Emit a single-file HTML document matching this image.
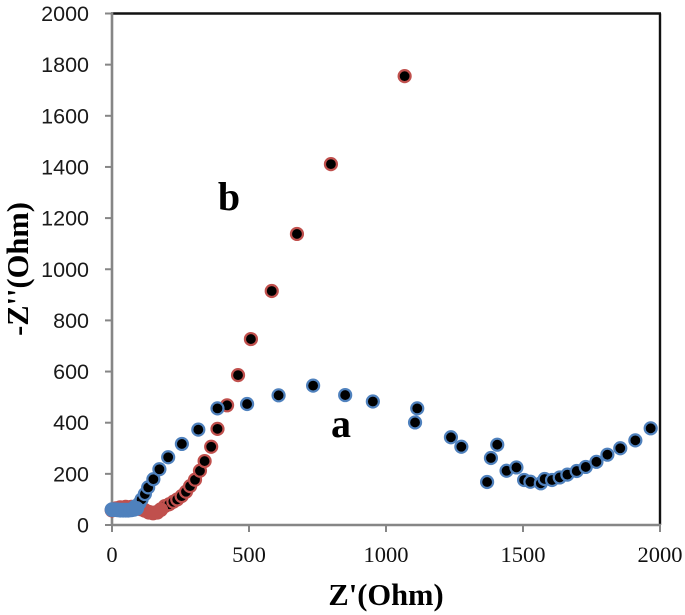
<!DOCTYPE html>
<html lang="en">
<head>
<meta charset="utf-8">
<title>Nyquist plot</title>
<style>
html,body{margin:0;padding:0;background:#fff;}
body{width:685px;height:615px;overflow:hidden;}
svg{display:block;}
.ytick{font-family:"Liberation Sans",sans-serif;font-size:21.5px;fill:#1a1a1a;text-anchor:end;}
.xtick{font-family:"Liberation Serif",serif;font-size:22.5px;fill:#111;text-anchor:middle;}
.title{font-family:"Liberation Serif",serif;font-weight:bold;font-size:30.5px;fill:#000;text-anchor:middle;}
.tag{font-family:"Liberation Serif",serif;font-weight:bold;font-size:40px;fill:#000;text-anchor:middle;}
</style>
</head>
<body>
<svg id="chart" xmlns="http://www.w3.org/2000/svg" width="685" height="615" viewBox="0 0 685 615">
  <rect width="685" height="615" fill="#fff"/>
  <g id="axes"></g>
  <g id="series-b"></g>
  <g id="series-a"></g>
  <text class="tag" x="229" y="210">b</text>
  <text class="tag" x="341" y="437">a</text>
  <text class="title" x="386" y="605">Z'(Ohm)</text>
  <text class="title" transform="translate(28 269) rotate(-90)">-Z''(Ohm)</text>
</svg>
<script>
const xTicks = [0, 500, 1000, 1500, 2000];
const yTicks = [0, 200, 400, 600, 800, 1000, 1200, 1400, 1600, 1800, 2000];

// Low-frequency band: overlapping markers that read as solid colour
const bBandX = [0, 15, 30, 50, 70, 90, 105, 120, 135, 150, 165, 178];
const bBandY = [58, 64, 68, 70, 70, 68, 63, 57, 50, 47, 50, 60];
const bDotX = [193, 209, 224, 238, 254, 270, 285, 303, 321, 338, 362, 385, 420, 460, 507, 583, 675, 799, 1068];
const bDotY = [74, 81, 91, 100, 113, 130, 152, 177, 212, 250, 306, 376, 468, 586, 727, 915, 1138, 1411, 1755];

const aBandX = [0, 10, 20, 30, 40, 50, 60, 70, 80, 90];
const aBandY = [60, 60, 59, 58, 58, 58, 58, 59, 61, 65];
const aDotX = [84, 100, 108, 120, 132, 151, 173, 205, 255, 315, 385, 493, 608, 734, 851, 952, 1114, 1106, 1237, 1275, 1406, 1383, 1369, 1440, 1476, 1504, 1527, 1565, 1579, 1606, 1634, 1662, 1696, 1729, 1768, 1808, 1855, 1910, 1966];
const aDotY = [72, 85, 100, 121, 147, 179, 218, 265, 317, 373, 456, 473, 507, 545, 508, 483, 456, 401, 343, 306, 314, 262, 168, 212, 225, 176, 169, 163, 180, 176, 186, 197, 211, 227, 247, 275, 300, 331, 378];

const SVGNS = 'http://www.w3.org/2000/svg';
const X0 = 112, X1 = 660, Y0 = 525, Y1 = 13.5;
const xScale = v => X0 + (v / 2000) * (X1 - X0);
const yScale = v => Y0 - (v / 2000) * (Y0 - Y1);

function make(tag, attrs, parent, text) {
  const el = document.createElementNS(SVGNS, tag);
  for (const k in attrs) el.setAttribute(k, attrs[k]);
  if (text !== undefined) el.textContent = text;
  parent.appendChild(el);
  return el;
}

const axes = document.getElementById('axes');
const GREY = '#868686';

let el = make('line', {x1: X0 - 1, y1: Y1, x2: X1 + 1, y2: Y1, stroke: '#111', 'stroke-width': 2.4}, axes);


el = make('line', {x1: X1, y1: Y1, x2: X1, y2: Y0, stroke: '#111', 'stroke-width': 2.4}, axes);


el = make('line', {x1: X0, y1: Y1 - 1, x2: X0, y2: Y0 + 1, stroke: GREY, 'stroke-width': 2.6}, axes);


el = make('line', {x1: X0 - 1, y1: Y0, x2: X1 + 1, y2: Y0, stroke: GREY, 'stroke-width': 2.6}, axes);



xTicks.forEach(t => {
  const x = xScale(t);
  const tick = make('line', {x1: x, y1: Y0, x2: x, y2: Y0 + 7, stroke: GREY, 'stroke-width': 2}, axes);
  
  
  const label = make('text', {class: 'xtick', x: x, y: 562}, axes, String(t));
  
  
});

yTicks.forEach(t => {
  const y = yScale(t);
  const tick = make('line', {x1: X0 - 7, y1: y, x2: X0, y2: y, stroke: GREY, 'stroke-width': 2}, axes);
  
  
  const label = make('text', {class: 'ytick', x: 89, y: y + 7.5}, axes, String(t));
  
  
});

function drawSeries(groupId, bandX, bandY, dotX, dotY, colour) {
  const group = document.getElementById(groupId);
  dotX.forEach((v, i) => {
    const c = make('circle', {cx: xScale(v), cy: yScale(dotY[i]), r: 6, fill: '#000', stroke: colour, 'stroke-width': 2.2}, group);
    
    
  });
  bandX.forEach((v, i) => {
    const c = make('circle', {cx: xScale(v), cy: yScale(bandY[i]), r: 7.4, fill: colour}, group);
    
    
  });
}

drawSeries('series-b', bBandX, bBandY, bDotX, bDotY, '#c0504d');
drawSeries('series-a', aBandX, aBandY, aDotX, aDotY, '#4f81bd');
</script>
</body>
</html>
